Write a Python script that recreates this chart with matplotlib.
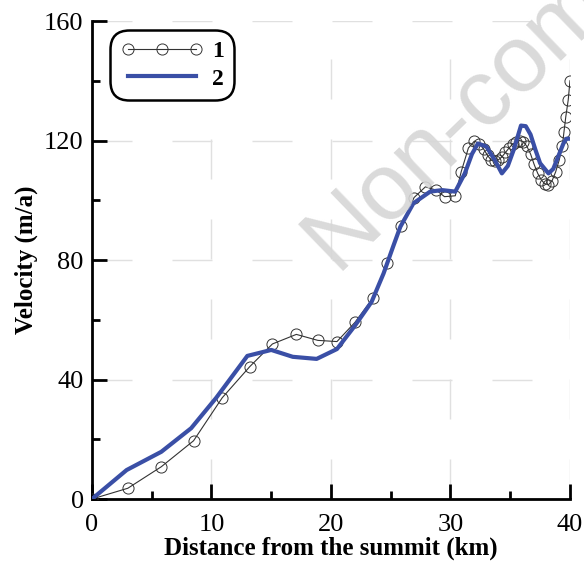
import matplotlib
matplotlib.use("Agg")
import matplotlib.pyplot as plt
from matplotlib.ticker import MultipleLocator

# measured velocities (series 1) and modelled profile (series 2)
dist_1 = [0.0, 3.0, 5.8, 8.5, 10.9, 13.2, 15.1, 17.1, 18.9, 20.5, 22.0, 23.5,
          24.7, 25.9, 26.95, 27.9, 28.8, 29.5, 30.4, 30.9, 31.5, 32.0, 32.4,
          32.8, 33.1, 33.4, 33.7, 34.0, 34.3, 34.6, 34.9, 35.2, 35.5, 35.8,
          36.1, 36.4, 36.7, 37.0, 37.3, 37.6, 37.9, 38.2, 38.5, 38.8, 39.1,
          39.35, 39.5, 39.65, 39.85, 40.0]
vel_1 = [0.0, 3.6, 10.8, 19.5, 33.9, 44.3, 51.9, 55.1, 53.1, 52.7, 59.1, 67.2,
         78.9, 91.4, 100.9, 104.5, 103.4, 101.2, 101.5, 109.6, 117.5, 119.8,
         119.0, 117.0, 115.0, 113.5, 113.0, 113.5, 114.5, 116.0, 117.5, 118.8,
         119.6, 120.0, 119.6, 118.0, 115.5, 112.0, 109.0, 106.8, 105.5, 105.2,
         106.5, 109.5, 113.5, 118.0, 123.0, 128.0, 133.5, 140.0]

dist_2 = [0.0, 2.9, 5.8, 8.3, 10.4, 13.0, 15.0, 16.8, 18.8, 20.5, 22.0, 23.4,
          24.4, 25.2, 25.8, 26.9, 28.3, 29.3, 30.4, 31.2, 31.8, 32.3, 33.0,
          33.7, 34.3, 34.8, 35.3, 35.9, 36.3, 36.7, 37.1, 37.5, 38.2, 38.6,
          38.9, 39.2, 39.45, 39.7, 40.0]
vel_2 = [0.0, 9.7, 15.8, 23.7, 33.9, 47.9, 49.9, 47.6, 46.9, 50.2, 58.0, 66.0,
         75.5, 84.5, 91.1, 99.0, 102.9, 103.4, 102.9, 109.0, 115.5, 119.0, 118.0,
         113.5, 109.0, 111.5, 117.0, 125.0, 124.8, 122.0, 117.0, 112.4, 109.0,
         110.5, 113.5, 116.5, 119.0, 120.6, 120.6]

plt.rcParams['font.family'] = ['Liberation Serif', 'DejaVu Serif']

fig = plt.figure(figsize=(5.84, 5.65), dpi=100)
ax = fig.add_axes([0.1575, 0.1168, 0.8185, 0.846])

ax.plot(dist_1, vel_1, color='#333333', lw=0.8, marker='o', ms=8,
        mfc='none', mec='#333333', mew=0.7, label='1', zorder=3)
ax.plot(dist_2, vel_2, color='#3a4fa6', lw=3, label='2', zorder=4)

ax.set_xlim(0, 40)
ax.set_ylim(0, 160)
ax.xaxis.set_major_locator(MultipleLocator(10))
ax.xaxis.set_minor_locator(MultipleLocator(5))
ax.yaxis.set_major_locator(MultipleLocator(40))
ax.yaxis.set_minor_locator(MultipleLocator(20))

ax.grid(True, which='major', color='#e0e0e0', lw=1, ls=(0, (28.8, 28.8)))
ax.set_axisbelow(True)

for side in ['top', 'right']:
    ax.spines[side].set_visible(False)
for side in ['left', 'bottom']:
    ax.spines[side].set_linewidth(2)

ax.tick_params(which='major', direction='in', length=11, width=2,
               labelsize=19, pad=6)
ax.tick_params(axis='x', which='major', pad=11)
ax.tick_params(which='minor', direction='in', length=6, width=2)

ax.set_xlabel('Distance from the summit (km)', fontsize=18, fontweight='bold',
              labelpad=0)
ax.set_ylabel('Velocity (m/a)', fontsize=18, fontweight='bold', labelpad=4)

leg = ax.legend(loc='upper left', bbox_to_anchor=(0.038, 0.981),
                borderaxespad=0, fancybox=True, framealpha=1,
                edgecolor='black', handlelength=3.5, numpoints=3,
                prop={'weight': 'bold', 'size': 17}, borderpad=0.45,
                labelspacing=0.25, handletextpad=0.35)
leg.get_frame().set_linewidth(1.8)
leg.get_frame().set_boxstyle('round', pad=0.0, rounding_size=0.8)

# diagonal watermark across the upper right
fig.text(0.575, 0.52, 'Non-commercial', family='Liberation Sans', fontsize=68,
         color='#d6d6d6', rotation=44, rotation_mode='anchor',
         ha='left', va='baseline', zorder=0, alpha=0.9)

fig.savefig('out.png', dpi=100)
